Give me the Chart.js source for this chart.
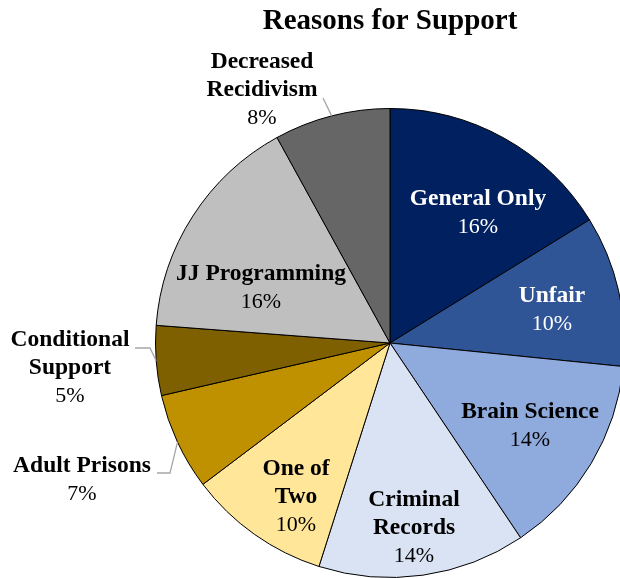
<!DOCTYPE html>
<html>
<head>
<meta charset="utf-8">
<script src="https://cdn.jsdelivr.net/npm/chart.js@4.4.1/dist/chart.umd.min.js"></script>
<style>
  html, body { margin: 0; padding: 0; overflow: hidden; background: #fff; }
  #wrap { width: 620px; height: 578px; overflow: hidden; }
</style>
</head>
<body>
<div id="wrap"><canvas id="pie" width="640" height="578"></canvas></div>
<script>
// data
var categories = ['General Only', 'Unfair', 'Brain Science', 'Criminal Records', 'One of Two',
                  'Adult Prisons', 'Conditional Support', 'JJ Programming', 'Decreased Recidivism'];
var shares = [16.2, 10.4, 14.0, 14.3, 9.8, 6.7, 4.8, 15.8, 8.0];

// label text split into lines
var labelLines = [
  ['General Only'], ['Unfair'], ['Brain Science'], ['Criminal', 'Records'], ['One of', 'Two'],
  ['Adult Prisons'], ['Conditional', 'Support'], ['JJ Programming'], ['Decreased', 'Recidivism']
];

// colours
var fills = ['#002060', '#2F5597', '#8FAADC', '#DAE3F3', '#FFE699',
             '#BF9000', '#7F6000', '#BFBFBF', '#666666'];
var textColors = ['#fff', '#fff', '#000', '#000', '#000', '#000', '#000', '#000', '#000'];

// label block centres, relative to the pie centre
var labelOffsets = [[88, -130], [162, -33], [140, 83], [24, 185], [-94, 154],
                    [-308, 137], [-320, 25], [-129, -55], [-128, -253]];
// leader line points (relative to centre), null = none
var leaders = [null, null, null, null, null,
  [[-220, 130], [-233, 130]],
  [[-240, 5], [-255, 5]],
  null,
  [[-67, -245]]];

var LINE_H = 28;

var labelPlugin = {
  id: 'sliceLabels',
  afterDatasetsDraw: function (chart) {
    var ctx = chart.ctx;
    var meta = chart.getDatasetMeta(0);
    var cx = meta.data[0].x, cy = meta.data[0].y;
    var r = meta.data[0].outerRadius;
    ctx.save();

    // title
    ctx.fillStyle = '#000';
    ctx.textAlign = 'center';
    ctx.textBaseline = 'middle';
    ctx.font = 'bold 29px "Liberation Serif", "Times New Roman", serif';
    ctx.fillText('Reasons for Support', cx, 22);

    meta.data.forEach(function (arc, i) {
      // leader lines
      if (leaders[i]) {
        var mid = (arc.startAngle + arc.endAngle) / 2;
        ctx.strokeStyle = '#A6A6A6';
        ctx.lineWidth = 1.3;
        ctx.beginPath();
        ctx.moveTo(cx + Math.cos(mid) * r, cy + Math.sin(mid) * r);
        leaders[i].forEach(function (p) { ctx.lineTo(cx + p[0], cy + p[1]); });
        ctx.stroke();
      }
      var lines = labelLines[i];
      var n = lines.length + 1;
      var x = cx + labelOffsets[i][0];
      var y0 = cy + labelOffsets[i][1] - (n - 1) * LINE_H / 2;
      ctx.fillStyle = textColors[i];
      ctx.font = 'bold 23.5px "Liberation Serif", "Times New Roman", serif';
      lines.forEach(function (t, k) { ctx.fillText(t, x, y0 + k * LINE_H); });
      ctx.font = '22px "Liberation Serif", "Times New Roman", serif';
      ctx.fillText(Math.round(shares[i]) + '%', x, y0 + lines.length * LINE_H);
    });
    ctx.restore();
  }
};

new Chart(document.getElementById('pie'), {
  type: 'pie',
  data: {
    labels: categories,
    datasets: [{
      data: shares,
      backgroundColor: fills,
      borderColor: '#000',
      borderWidth: 1
    }]
  },
  options: {
    responsive: false,
    animation: false,
    layout: { padding: { left: 155, right: 15, top: 108, bottom: 0 } },
    plugins: {
      legend: { display: false },
      tooltip: { enabled: false },
      title: { display: false }
    }
  },
  plugins: [labelPlugin]
});
</script>
</body>
</html>
